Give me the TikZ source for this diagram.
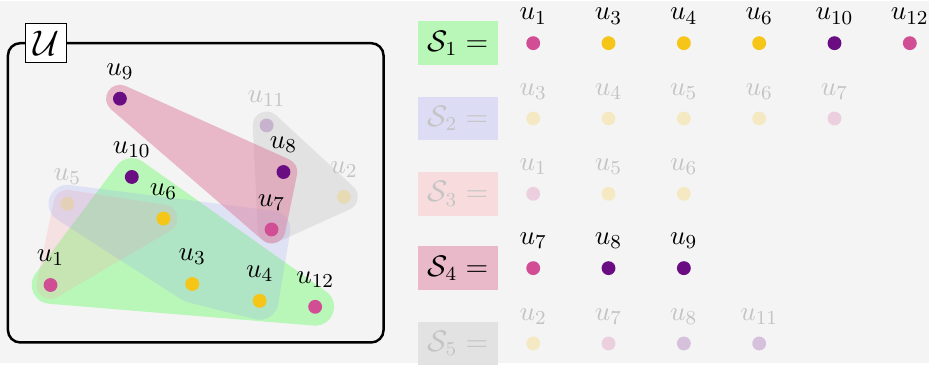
\documentclass[tikz,border=0pt]{standalone}
\usepackage{amsmath}
\usetikzlibrary{positioning,backgrounds}
\definecolor{bgc}{HTML}{F4F4F4}
\definecolor{hotpink}{HTML}{D14D94}
\definecolor{gold}{HTML}{F5C518}
\definecolor{plum}{HTML}{6A0D83}
\definecolor{greenset}{HTML}{B9F7B9}
\definecolor{blueset}{RGB}{136,150,244}
\definecolor{roseset}{RGB}{253,161,161}
\definecolor{mauveset}{RGB}{222,126,158}
\definecolor{greyset}{RGB}{176,176,176}
\definecolor{fadetext}{HTML}{C4C4C4}
\definecolor{greenbox}{HTML}{B9F7B9}
\definecolor{bluebox}{HTML}{DCDCF5}
\definecolor{rosebox}{HTML}{F8DCDD}
\definecolor{mauvebox}{HTML}{E9B9C9}
\definecolor{greybox}{HTML}{E2E2E2}
\tikzset{
  vtx/.style={circle,inner sep=0pt,minimum size=5.6pt,fill=#1},
  dim/.style={fill opacity=0.22},
  lbl/.style={label distance=1.2pt,font=\fontsize{11}{13}\selectfont},
  dimlbl/.style={lbl,text=fadetext},
  hull/.style={line width=#1,line join=round,line cap=round},
  setbox/.style={rectangle,inner sep=0pt,minimum width=32pt,minimum height=17.6pt,font=\large},
  frame/.style={draw,rectangle,rounded corners=5pt,line width=1pt,minimum width=151.6pt,minimum height=120.8pt},
  tag/.style={draw,rectangle,fill=white,line width=0.4pt,inner sep=0pt,minimum width=16.4pt,minimum height=16pt,font=\Large}
}

\begin{document}
\begin{tikzpicture}[x=0.4pt,y=-0.4pt,node distance=11.2pt and 24.4pt]

% universe with its elements
\node[frame] (univ) at (197.5,194) {};
\node[tag] (utag) at (46.5,43) {$\mathcal{U}$};

\node[vtx=plum,label={[lbl]above:$u_9$}] (u9) at (121,99) {};
\node[vtx=plum,dim,label={[dimlbl]above:$u_{11}$}] (u11) at (269,126) {};
\node[vtx=plum,label={[lbl]above:$u_8$}] (u8) at (286,173) {};
\node[vtx=gold,dim,label={[dimlbl]above:$u_2$}] (u2) at (347,198) {};
\node[vtx=plum,label={[lbl]above:$u_{10}$}] (u10) at (133,178) {};
\node[vtx=gold,dim,label={[dimlbl]above:$u_5$}] (u5) at (68,205) {};
\node[vtx=gold,label={[lbl]above:$u_6$}] (u6) at (165,220) {};
\node[vtx=hotpink,label={[lbl]above:$u_7$}] (u7) at (274,231) {};
\node[vtx=hotpink,label={[lbl]above:$u_1$}] (u1) at (51,287) {};
\node[vtx=gold,label={[lbl]above:$u_3$}] (u3) at (194,286) {};
\node[vtx=gold,label={[lbl]above:$u_4$}] (u4) at (262,303) {};
\node[vtx=hotpink,label={[lbl]above:$u_{12}$}] (u12) at (318,309) {};

% hyperedges behind the elements
\begin{pgfonlayer}{background}
\path[fill=bgc] (0,0) rectangle (937,366);
\draw[hull=15.2pt,draw=greenset,fill=greenset] (u1.center) -- (u10.center) -- (u12.center) -- cycle;
\begin{scope}[transparency group,opacity=0.22]
\draw[hull=11.2pt,draw=roseset,fill=roseset] (u1.center) -- (u5.center) -- (u6.center) -- cycle;
\end{scope}
\begin{scope}[transparency group,opacity=0.25]
\draw[hull=11.2pt,draw=greyset,fill=greyset] (u11.center) -- (u2.center) -- (u7.center) -- cycle;
\end{scope}
\begin{scope}[transparency group,opacity=0.19]
\draw[hull=15.2pt,draw=blueset,fill=blueset] (u5.center) -- (u7.center) -- (u4.center) -- (u3.center) -- cycle;
\end{scope}
\begin{scope}[transparency group,opacity=0.5]
\draw[hull=11.2pt,draw=mauveset,fill=mauveset] (u9.center) -- (u8.center) -- (u7.center) -- cycle;
\end{scope}
\end{pgfonlayer}

% the sets written out
\node[setbox,fill=greenbox] (s1) at (462,43) {$\mathcal{S}_1 =$};
\node[vtx=hotpink,right=11.2pt of s1,label={[lbl]above:$u_1$}] (s1a) {};
\node[vtx=gold,right=of s1a,label={[lbl]above:$u_3$}] (s1b) {};
\node[vtx=gold,right=of s1b,label={[lbl]above:$u_4$}] (s1c) {};
\node[vtx=gold,right=of s1c,label={[lbl]above:$u_6$}] (s1d) {};
\node[vtx=plum,right=of s1d,label={[lbl]above:$u_{10}$}] (s1e) {};
\node[vtx=hotpink,right=of s1e,label={[lbl]above:$u_{12}$}] (s1f) {};

\node[setbox,fill=bluebox,text=fadetext] (s2) at (462,119) {$\mathcal{S}_2 =$};
\node[vtx=gold,dim,right=11.2pt of s2,label={[dimlbl]above:$u_3$}] (s2a) {};
\node[vtx=gold,dim,right=of s2a,label={[dimlbl]above:$u_4$}] (s2b) {};
\node[vtx=gold,dim,right=of s2b,label={[dimlbl]above:$u_5$}] (s2c) {};
\node[vtx=gold,dim,right=of s2c,label={[dimlbl]above:$u_6$}] (s2d) {};
\node[vtx=hotpink,dim,right=of s2d,label={[dimlbl]above:$u_7$}] (s2e) {};

\node[setbox,fill=rosebox,text=fadetext] (s3) at (462,195) {$\mathcal{S}_3 =$};
\node[vtx=hotpink,dim,right=11.2pt of s3,label={[dimlbl]above:$u_1$}] (s3a) {};
\node[vtx=gold,dim,right=of s3a,label={[dimlbl]above:$u_5$}] (s3b) {};
\node[vtx=gold,dim,right=of s3b,label={[dimlbl]above:$u_6$}] (s3c) {};

\node[setbox,fill=mauvebox] (s4) at (462,270) {$\mathcal{S}_4 =$};
\node[vtx=hotpink,right=11.2pt of s4,label={[lbl]above:$u_7$}] (s4a) {};
\node[vtx=plum,right=of s4a,label={[lbl]above:$u_8$}] (s4b) {};
\node[vtx=plum,right=of s4b,label={[lbl]above:$u_9$}] (s4c) {};

\node[setbox,fill=greybox,text=fadetext] (s5) at (462,346) {$\mathcal{S}_5 =$};
\node[vtx=gold,dim,right=11.2pt of s5,label={[dimlbl]above:$u_2$}] (s5a) {};
\node[vtx=hotpink,dim,right=of s5a,label={[dimlbl]above:$u_7$}] (s5b) {};
\node[vtx=plum,dim,right=of s5b,label={[dimlbl]above:$u_8$}] (s5c) {};
\node[vtx=plum,dim,right=of s5c,label={[dimlbl]above:$u_{11}$}] (s5d) {};

\useasboundingbox (0,0) rectangle (937,366);
\end{tikzpicture}
\end{document}
